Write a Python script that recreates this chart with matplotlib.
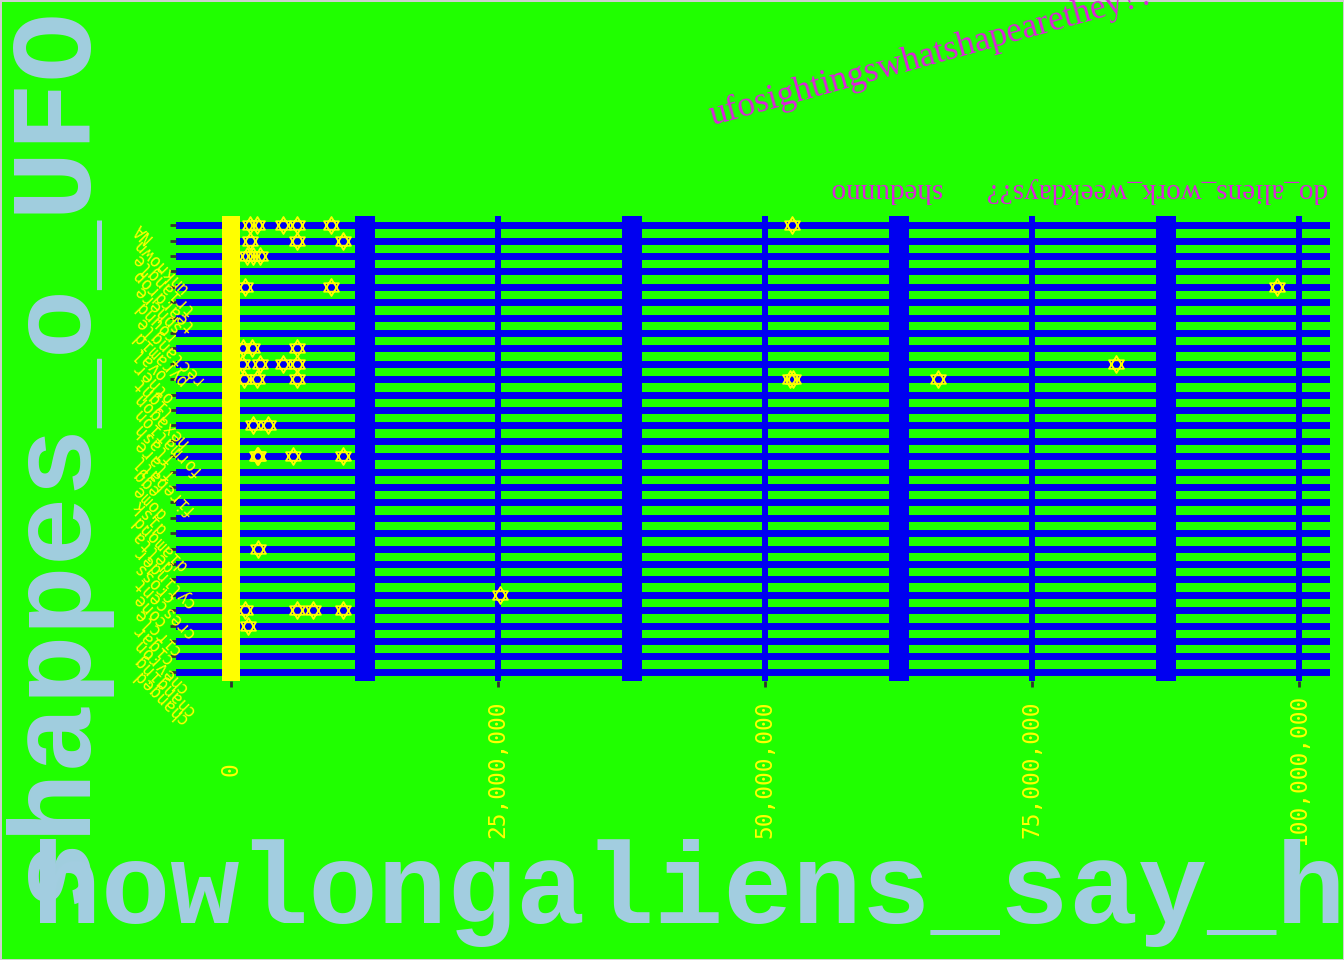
import matplotlib
matplotlib.use("Agg")
import matplotlib.pyplot as plt
from matplotlib.path import Path
from matplotlib.ticker import FixedLocator, FuncFormatter

GREEN = '#20ff00'
BLUE = '#0000f0'
YEL = '#ffff00'
LBLUE = '#a2cde0'
MAG = '#dd22dd'

# ufo shapes, bottom row first (ggplot puts NA on top)
shapes = ['changed', 'changing', 'chevron', 'cigar', 'circle', 'cone', 'crescent',
          'cross', 'cylinder', 'delta', 'diamond', 'disk', 'dome', 'egg', 'fireball',
          'flare', 'flash', 'formation', 'hexagon', 'light', 'other', 'oval',
          'pyramid', 'rectangle', 'round', 'sphere', 'teardrop', 'triangle',
          'unknown', 'NA']

# duration in seconds - boxes all sit at ~0 on this scale
box_q1 = [60, 60, 120, 60, 30, 60, 60, 60, 60, 120, 60, 60, 60, 60, 60,
          60, 15, 120, 60, 60, 60, 30, 120, 60, 60, 60, 60, 60, 60, 60]
box_med = [300, 300, 300, 300, 180, 300, 300, 300, 300, 300, 300, 300, 300, 300, 300,
           240, 60, 300, 300, 300, 300, 300, 300, 300, 300, 300, 300, 300, 300, 300]
box_q3 = [900, 1200, 900, 900, 600, 900, 900, 900, 900, 900, 900, 1200, 900, 900, 900,
          600, 300, 1200, 900, 900, 1200, 900, 1200, 900, 900, 900, 900, 900, 900, 1200]
box_hi = [2100, 2700, 2100, 2100, 1500, 2100, 2100, 2100, 2100, 2100, 2100, 2700, 2100,
          2100, 2100, 1500, 600, 2700, 2100, 2100, 2700, 2100, 2700, 2100, 2100, 2100,
          2100, 2100, 2100, 2700]

# outliers (seconds)
fliers = {
    'cigar': [1590000],
    'circle': [1310000, 6180000, 7680000, 10490000],
    'cone': [25200000],
    'cylinder': [2530000],
    'fireball': [2430000, 2520000, 5800000, 10490000],
    'flash': [2060000, 3460000],
    'light': [1200000, 2430000, 6180000, 52300000, 52600000, 66200000],
    'other': [1000000, 2700000, 4870000, 6180000, 82900000],
    'oval': [1100000, 1970000, 6180000],
    'sphere': [1310000, 9360000, 97900000],
    'triangle': [1500000, 2060000, 2700000],
    'unknown': [1780000, 6180000, 10490000],
    'NA': [1780000, 2430000, 4870000, 6180000, 9360000, 52500000],
}

x_ticks = [0, 25e6, 50e6, 75e6, 100e6]
x_minor = [12.5e6, 37.5e6, 62.5e6, 87.5e6]

# pch 11 look-alike: triangle up + triangle down
star = Path([(0, 1), (-0.88, -0.5), (0.88, -0.5), (0, 1),
             (0, -1), (-0.88, 0.5), (0.88, 0.5), (0, -1)],
            [Path.MOVETO, Path.LINETO, Path.LINETO, Path.CLOSEPOLY] * 2)

stats = []
for i, s in enumerate(shapes):
    stats.append(dict(med=box_med[i], q1=box_q1[i], q3=box_q3[i],
                      whislo=0, whishi=box_hi[i], fliers=fliers.get(s, [])))

fig = plt.figure(figsize=(13.44, 9.6), dpi=100, facecolor=GREEN,
                 edgecolor='#cfcfcf', linewidth=2)
ax = fig.add_axes([176 / 1344, 1 - 681 / 960, (1330 - 176) / 1344, (681 - 216) / 960])
ax.set_facecolor(GREEN)
for sp in ax.spines.values():
    sp.set_visible(False)

# the boxes are squashed to nothing at this scale, the fat yellow outline is all you see
ax.bxp(stats, positions=range(1, len(shapes) + 1), widths=0.02,
       orientation='horizontal', patch_artist=True, showcaps=False, manage_ticks=False,
       boxprops=dict(facecolor=YEL, edgecolor=YEL, linewidth=1),
       whiskerprops=dict(color=YEL, linewidth=1),
       medianprops=dict(color=YEL, linewidth=0, marker='s', markersize=12.8,
                        markerfacecolor=YEL, markeredgewidth=0),
       flierprops=dict(marker=star, markersize=12.2, markerfacecolor='none',
                       markeredgecolor=YEL, markeredgewidth=1.3, linestyle='none'))

ax.set_xlim(-5.15e6, 102.9e6)
ax.set_ylim(0.4, len(shapes) + 0.6)

ax.set_axisbelow(True)
ax.xaxis.set_major_locator(FixedLocator(x_ticks))
ax.xaxis.set_minor_locator(FixedLocator(x_minor))
ax.xaxis.set_major_formatter(FuncFormatter(lambda v, p: f'{v:,.0f}'))
ax.grid(which='minor', axis='x', color=BLUE, linewidth=14.4)
ax.grid(which='major', axis='x', color=BLUE, linewidth=4.3)
ax.grid(which='major', axis='y', color=BLUE, linewidth=5)

ax.set_yticks(range(1, len(shapes) + 1))
ax.set_yticklabels(shapes)

ax.tick_params(which='minor', length=0)
ax.tick_params(which='major', color='#333333', width=2, length=4.5)
ax.tick_params(axis='x', labelcolor=YEL, labelsize=16.5, labelrotation=90, pad=59)
ax.tick_params(axis='y', labelcolor=YEL, labelsize=12, pad=25)
for lbl in ax.get_xticklabels():
    lbl.set_family('DejaVu Sans Mono')
    lbl.set_va('center')
for lbl in ax.get_yticklabels():
    lbl.set_family('DejaVu Sans Mono')
    lbl.set_rotation(135)
    lbl.set_rotation_mode('anchor')
    lbl.set_ha('right')
    lbl.set_va('center')

# giant axis titles
fig.text(32 / 1344, 1 - 923 / 960, 'howlongaliens_say_hi?', ha='left', va='baseline',
         fontsize=83, family='Liberation Mono', weight='bold', color=LBLUE)
fig.text(84 / 1344, 1 - 455 / 960, 'shappes_o_UFO', rotation=90, rotation_mode='anchor',
         ha='center', va='baseline', fontsize=83, family='Liberation Mono',
         weight='bold', color=LBLUE)

fig.text(712 / 1344, 1 - 125 / 960, 'ufosightingswhatshapearethey??', rotation=15.5,
         rotation_mode='anchor', ha='left', va='baseline', fontsize=25.5,
         family='Liberation Serif', color=MAG)
fig.text(1328 / 1344, 1 - 190 / 960, 'do_aliens_work_weekdays??      shedunno',
         rotation=180, ha='right', va='center', fontsize=21,
         family='Liberation Serif', color=MAG)

fig.savefig('out.png', dpi=100)
